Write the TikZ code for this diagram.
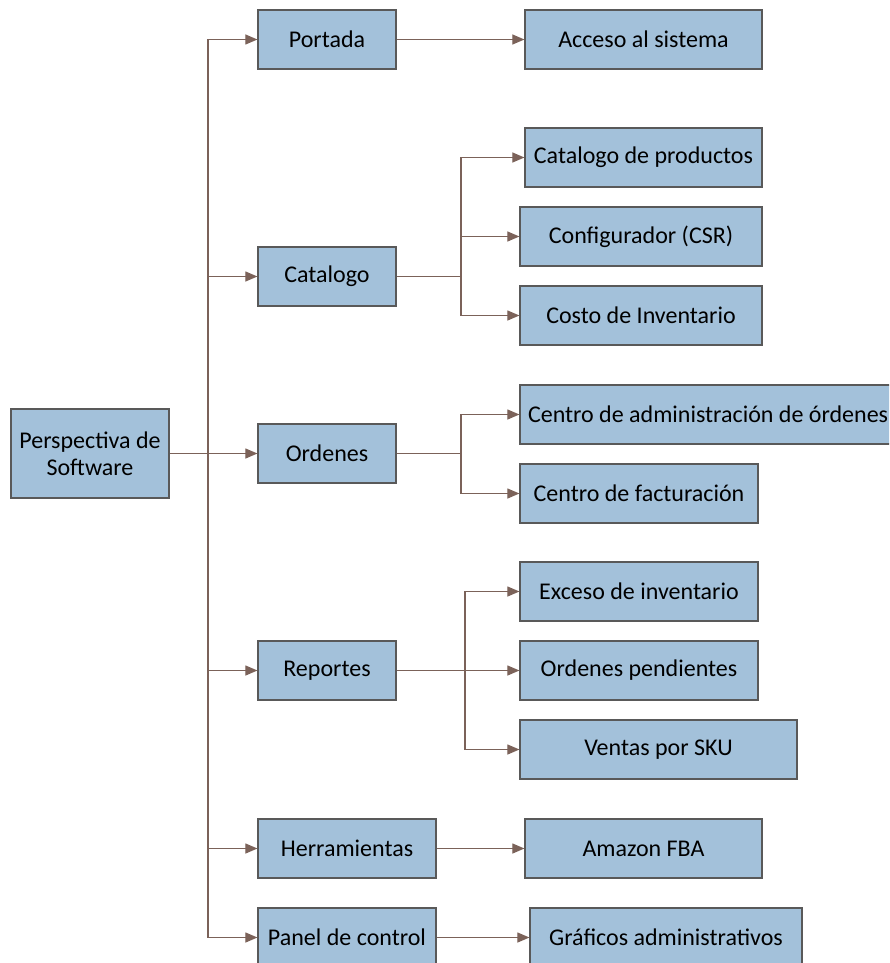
\documentclass[tikz,border=0pt]{standalone}
\usepackage{fontspec}
\setmainfont{Carlito}
\usepackage{xcolor}
\usetikzlibrary{arrows.meta,calc}
\definecolor{boxfill}{HTML}{A3C1DA}
\definecolor{boxline}{HTML}{595959}
\definecolor{linkcol}{HTML}{7B6259}

\begin{document}
\begin{tikzpicture}[x=1pt,y=-1pt]
\tikzstyle{main}=[rectangle, draw=boxline, fill=boxfill, line width=1.2pt, minimum height=59pt, font=\fontsize{24}{27}\selectfont, inner sep=2pt]
\tikzstyle{lvl}=[main, minimum width=138pt]
\tikzstyle{leaf}=[main, minimum width=237pt]
\tikzstyle{connect}=[-{Triangle[length=12pt,width=10pt]}, line width=1.1pt, draw=linkcol]
\tikzstyle{link}=[line width=1.1pt, draw=linkcol]

  \useasboundingbox (0,0) rectangle (889,963);
  \clip (0,0) rectangle (889,963);

  % root
  \node[main, minimum width=158pt, minimum height=89pt, align=center] (root) at (90,453.5) {Perspectiva de\\Software};

  % first level
  \node[lvl] (portada)   at (327,39.5)  {Portada};
  \node[lvl] (catalogo)  at (327,276.5) {Catalogo};
  \node[lvl] (ordenes)   at (327,453.5) {Ordenes};
  \node[lvl] (reportes)  at (327,670.5) {Reportes};
  \node[lvl, minimum width=178pt] (herram) at (347,848.5) {Herramientas};
  \node[lvl, minimum width=178pt] (panel)  at (347,937.5) {Panel de control};

  % second level
  \node[leaf] (acceso)    at (643.5,39.5)  {Acceso al sistema};
  \node[leaf] (catprod)   at (643.5,157.5) {Catalogo de productos};
  \node[leaf, minimum width=242pt] (config) at (641,236.5) {Configurador (CSR)};
  \node[leaf, minimum width=242pt] (costo)  at (641,315.5) {Costo de Inventario};
  \node[main, inner xsep=8pt] (centroadm) at (710,414.5) {\makebox[364pt][l]{Centro de administración de órdenes}};
  \node[leaf, minimum width=238pt] (factura) at (639,493.5) {Centro de facturación};
  \node[leaf, minimum width=238pt] (exceso)  at (639,591.5) {Exceso de inventario};
  \node[leaf, minimum width=238pt] (pendien) at (639,670.5) {Ordenes pendientes};
  \node[leaf, minimum width=277pt] (ventas)  at (658.5,749.5) {Ventas por SKU};
  \node[leaf] (amazon)    at (643.5,848.5) {Amazon FBA};
  \node[leaf, minimum width=272pt] (graficos) at (666,937.5) {Gráficos administrativos};

  % branch points
  \coordinate (trunk) at (208,453.5);
  \coordinate (catb)  at (461,276.5);
  \coordinate (ordb)  at (461,453.5);
  \coordinate (repb)  at (465,670.5);

  \path[link] (root.east) -- (trunk);
  \foreach \n in {portada,catalogo,ordenes,reportes,herram,panel}
    \draw[connect] (trunk) |- (\n.west);

  \path[link] (catalogo.east) -- (catb);
  \foreach \n in {catprod,config,costo}
    \draw[connect] (catb) |- (\n.west);

  \path[link] (ordenes.east) -- (ordb);
  \foreach \n in {centroadm,factura}
    \draw[connect] (ordb) |- (\n.west);

  \path[link] (reportes.east) -- (repb);
  \foreach \n in {exceso,pendien,ventas}
    \draw[connect] (repb) |- (\n.west);

  \draw[connect] (portada) -- (acceso);
  \draw[connect] (herram) -- (amazon);
  \draw[connect] (panel) -- (graficos);

\end{tikzpicture}
\end{document}
